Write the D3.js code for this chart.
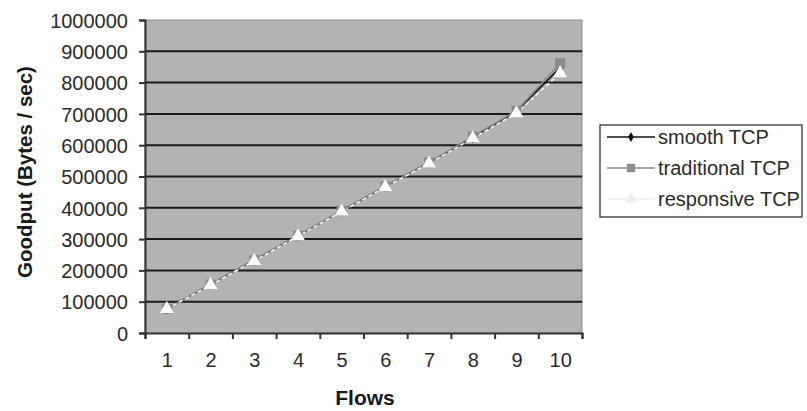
<!DOCTYPE html>
<html><head><meta charset="utf-8">
<script src="https://cdn.jsdelivr.net/npm/d3@7"></script>
<style>
body{margin:0;background:#fff;}
svg{display:block;font-family:"Liberation Sans",Arial,sans-serif;}
</style></head>
<body><svg id="c" width="807" height="411"></svg>
<script>
const flows = ["1","2","3","4","5","6","7","8","9","10"];
const smoothTCP      = [78000,155000,233000,311000,390000,468000,545000,625000,708000,848000];
const traditionalTCP = [78000,155000,233000,311000,390000,468000,545000,628000,710000,862000];
const responsiveTCP  = [77000,153000,230000,309000,388000,466000,542000,622000,702000,830000];
const yTicks = [0,100000,200000,300000,400000,500000,600000,700000,800000,900000,1000000];
const seriesNames = ["smooth TCP","traditional TCP","responsive TCP"];

const svg = d3.select("#c");
const L=145,R=582,T=20,B=333;
const x = d3.scalePoint().domain(flows).range([L,R]).padding(0.5);
const xb = d3.scaleLinear().domain([0,flows.length]).range([L,R]);
const y = d3.scaleLinear().domain([0,1000000]).range([B,T]);

svg.append("rect").attr("x",L).attr("y",T).attr("width",R-L).attr("height",B-T)
  .attr("fill","#b3b3b3").attr("stroke","#8c8c8c").attr("stroke-width",1);

// gridlines
svg.append("g").selectAll("line").data(yTicks.filter(v=>v>0&&v<1000000)).join("line")
  .attr("x1",L).attr("x2",R).attr("y1",d=>y(d)).attr("y2",d=>y(d))
  .attr("stroke","#1a1a1a").attr("stroke-width",2);

// y axis
const ya = svg.append("g").attr("transform",`translate(${L},0)`)
  .call(d3.axisLeft(y).tickValues(yTicks).tickFormat(d3.format("d")).tickSize(6).tickPadding(11));
ya.select(".domain").attr("stroke","#333").attr("stroke-width",2);
ya.selectAll(".tick line").attr("stroke","#333").attr("stroke-width",2);
ya.selectAll(".tick text").attr("font-size",20).attr("fill","#2a2a2a").attr("font-family","Liberation Sans, Arial, sans-serif").attr("dy","0.36em");

// x axis boundaries
const xa = svg.append("g").attr("transform",`translate(0,${B})`)
  .call(d3.axisBottom(xb).tickValues(d3.range(flows.length+1)).tickFormat("").tickSize(6));
xa.select(".domain").attr("stroke","#333").attr("stroke-width",2);
xa.selectAll(".tick line").attr("stroke","#333").attr("stroke-width",2);
const xl = svg.append("g").attr("transform",`translate(0,${B})`)
  .call(d3.axisBottom(x).tickSize(0).tickPadding(20));
xl.select(".domain").remove();
xl.selectAll(".tick text").attr("font-size",20).attr("fill","#2a2a2a").attr("font-family","Liberation Sans, Arial, sans-serif");

// titles
svg.append("text").attr("x",365).attr("y",405).attr("text-anchor","middle")
  .attr("font-weight","bold").attr("font-size",21).attr("fill","#1a1a1a").text("Flows");
svg.append("text").attr("transform","translate(32,172) rotate(-90)").attr("text-anchor","middle")
  .attr("font-weight","bold").attr("font-size",20.5).attr("fill","#1a1a1a").text("Goodput (Bytes / sec)");

const styles = [
  {data:smoothTCP, line:"#111", width:1.6, sym:d3.symbolDiamond, size:40, fill:"#111"},
  {data:traditionalTCP, line:"#8a8a8a", width:1.6, sym:d3.symbolSquare, size:100, fill:"#8a8a8a"},
  {data:responsiveTCP, line:"#f4f4f4", width:1.6, sym:d3.symbolTriangle, size:85, fill:"#fafafa"}
];
const lineGen = d3.line().x((d,i)=>x(flows[i])).y(d=>y(d));
styles.forEach(s=>{
  svg.append("path").datum(s.data).attr("d",lineGen).attr("fill","none")
    .attr("stroke",s.line).attr("stroke-width",s.width).attr("stroke-dasharray", s===styles[2]?"4,3":null);
});
styles.forEach(s=>{
  svg.append("g").selectAll("path").data(s.data).join("path")
    .attr("d",d3.symbol().type(s.sym).size(s.size))
    .attr("transform",(d,i)=>`translate(${x(flows[i])},${y(d)})`)
    .attr("fill",s.fill);
});

// legend
const lg = svg.append("g");
lg.append("rect").attr("x",600).attr("y",125).attr("width",202).attr("height",92)
  .attr("fill","#fff").attr("stroke","#222").attr("stroke-width",1.2);
const ly = [137,168,199];
styles.forEach((s,i)=>{
  lg.append("line").attr("x1",607).attr("x2",655).attr("y1",ly[i]).attr("y2",ly[i])
    .attr("stroke", i===2?"#eeeeee":s.line).attr("stroke-width",1.5);
  lg.append("path").attr("d",d3.symbol().type(s.sym).size(s.size*0.7)())
    .attr("transform",`translate(631,${ly[i]})`).attr("fill", i===2?"#eeeeee":s.fill);
  lg.append("text").attr("x",658).attr("y",ly[i]).attr("dy","0.36em")
    .attr("font-size",20).attr("fill","#2a2a2a").text(seriesNames[i]);
});
</script></body></html>
